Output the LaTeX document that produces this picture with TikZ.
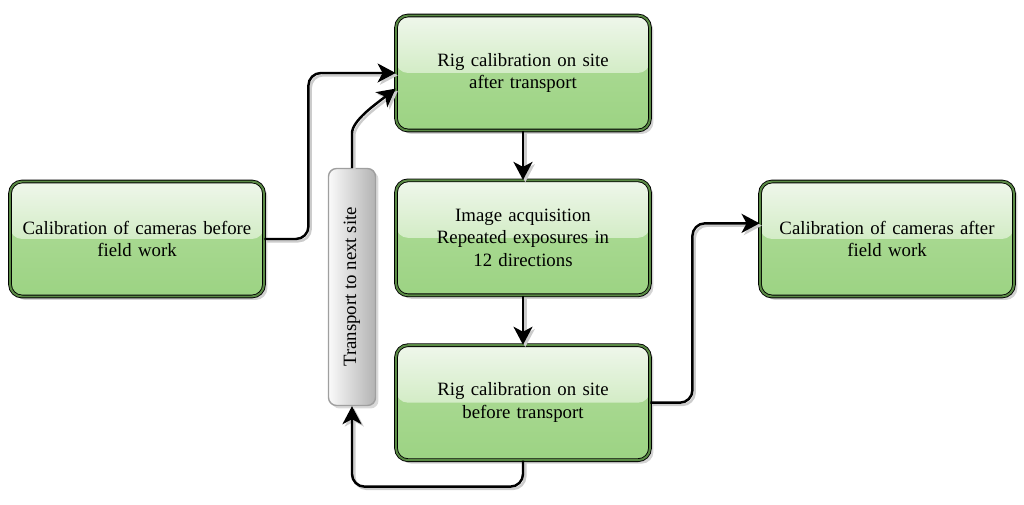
\documentclass[tikz,border=0pt]{standalone}
\usepackage{fontspec}
\setmainfont{Liberation Serif}
\usetikzlibrary{arrows.meta,positioning,calc,shadows}
\definecolor{glosstop}{HTML}{EFF7EB}
\definecolor{glossmid}{HTML}{D3ECC6}
\definecolor{leafmid}{HTML}{B2DD9C}
\definecolor{leafgreen}{HTML}{9CD383}
\definecolor{leafdark}{HTML}{5A8A45}
\tikzset{
  stagebox/.style={rectangle, rounded corners=0.24cm, draw=black, line width=0.5pt,
                   double=leafdark, double distance=1.1pt,
                   minimum width=5.08cm, minimum height=2.3cm, text width=4.8cm,
                   align=center, font=\fontsize{10.7}{12.8}\selectfont,
                   drop shadow={shadow xshift=0.07cm, shadow yshift=-0.07cm, opacity=0.35},
                   path picture={
                     \shade[top color=leafmid, bottom color=leafgreen]
                       (path picture bounding box.south west) rectangle (path picture bounding box.north east);
                     \shade[top color=glosstop, bottom color=glossmid]
                       (path picture bounding box.north west) rectangle (path picture bounding box.east);
                   }},
  carrier/.style={rectangle, rounded corners=0.16cm, draw=gray!75, line width=0.8pt,
                  left color=gray!4, right color=gray!60,
                  minimum width=0.94cm, minimum height=4.74cm, inner sep=0pt,
                  font=\fontsize{10.7}{12.8}\selectfont,
                  drop shadow={shadow xshift=0.06cm, shadow yshift=-0.06cm, opacity=0.3}},
  arr/.style={-{Stealth[length=3.6mm, width=3.8mm, inset=1mm]}, line width=1.4pt,
              rounded corners=0.25cm,
              preaction={draw=gray!40, line width=1.4pt,
                         transform canvas={xshift=1.3pt, yshift=-1.3pt}}},
}
\begin{document}
\begin{tikzpicture}[x=0.02cm, y=0.02cm, node distance=0.98cm]
  \useasboundingbox (0,0) rectangle (1024,504);
  % three stages on site
  \node[stagebox] (rigafter) at (523,431) {Rig calibration on site\\after transport};
  \node[stagebox, below=of rigafter] (acq) {Image acquisition\\Repeated exposures in\\12 directions};
  \node[stagebox, below=of acq] (rigbefore) {Rig calibration on site\\before transport};
  % lab calibrations
  \node[stagebox] (calibbefore) at (137,265) {Calibration of cameras before\\field work};
  \node[stagebox] (calibafter) at (887,265) {Calibration of cameras after\\field work};
  \node[carrier] (transport) at (352,217) {\rotatebox{90}{Transport to next site}};
  \draw[arr] (calibbefore.east) -- ++(44,0) |- (rigafter.west);
  \draw[arr] (transport.north) -- ++(0,22) to[out=90, in=218, looseness=0.9] (rigafter.187);
  \draw[arr] (rigafter) -- (acq); \draw[arr] (acq) -- (rigbefore);
  \draw[arr] (rigbefore.south) -- ++(0,-26) -| (transport.south);
  \draw[arr] (rigbefore.east) -- ++(42,0) |- (calibafter.173);
\end{tikzpicture}
\end{document}
